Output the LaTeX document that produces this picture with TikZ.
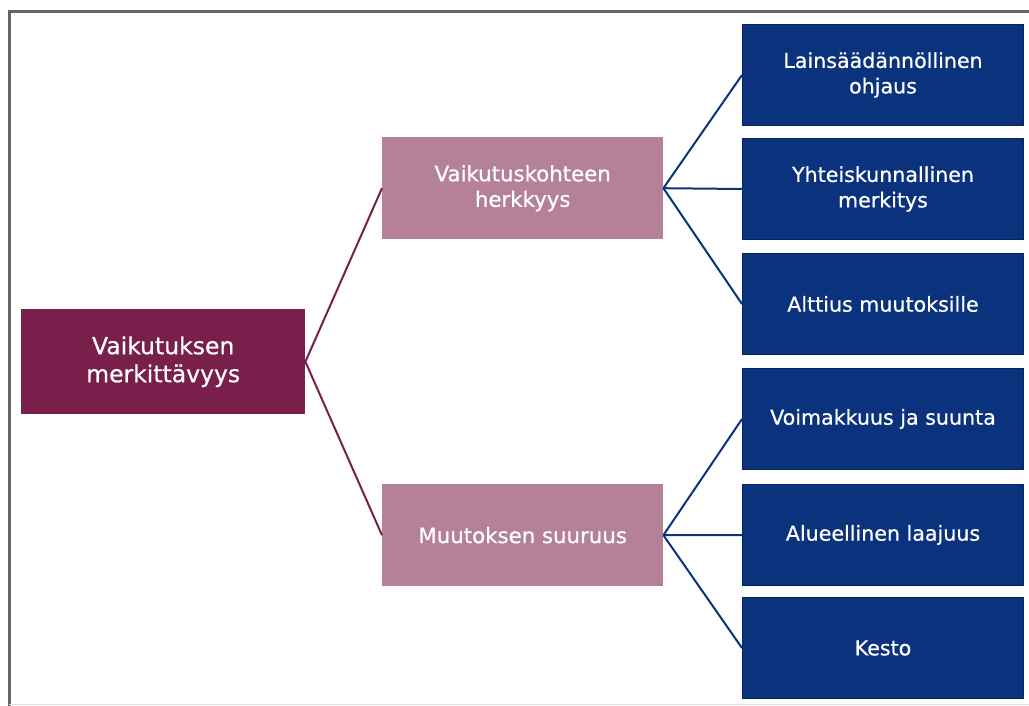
\documentclass[tikz,border=0pt]{standalone}
\usepackage{fontspec}
\setmainfont{DejaVu Sans}
\newfontfamily\boxfont{DejaVu Sans}[FakeBold=0.6]
\definecolor{maroon}{RGB}{121,31,76}
\definecolor{pinkbox}{RGB}{181,129,152}
\definecolor{navy}{RGB}{11,50,125}
\definecolor{navyedge}{RGB}{8,36,96}
\definecolor{framegray}{RGB}{100,100,100}
\begin{document}
\begin{tikzpicture}[x=1pt,y=-1pt,
  box/.style={rectangle, inner sep=0pt, align=center, text=white, anchor=north west},
  rootbox/.style={box, fill=maroon, minimum width=284pt, minimum height=105pt, font=\boxfont\fontsize{23.5}{28}\selectfont},
  midbox/.style={box, fill=pinkbox, minimum width=281pt, minimum height=102pt, font=\boxfont\fontsize{21.3}{25.5}\selectfont},
  leafbox/.style={box, fill=navy, draw=navyedge, line width=1pt, minimum width=281pt, minimum height=101pt, font=\boxfont\fontsize{20.6}{25.5}\selectfont},
  redline/.style={draw=maroon, line width=2pt},
  blueline/.style={draw=navy, line width=2pt}]
\useasboundingbox (0,0) rectangle (1029,706);
\fill[white] (0,0) rectangle (1029,706);
% frame
\draw[framegray, line width=3pt] (9,706) -- (9,12) -- (1029,12);
\draw[gray!25, line width=1pt] (9,704) -- (1029,704);
% nodes
\node[rootbox] (root) at (21,309) {Vaikutuksen\\merkittävyys};
\node[midbox] (herk) at (382,137) {Vaikutuskohteen\\herkkyys};
\node[midbox] (muut) at (382,484) {Muutoksen suuruus};
\node[leafbox] (l1) at (742,24) {Lainsäädännöllinen\\ohjaus};
\node[leafbox] (l2) at (742,138) {Yhteiskunnallinen\\merkitys};
\node[leafbox] (l3) at (742,253) {Alttius muutoksille};
\node[leafbox] (l4) at (742,368) {Voimakkuus ja suunta};
\node[leafbox] (l5) at (742,484) {Alueellinen laajuus};
\node[leafbox] (l6) at (742,597) {Kesto};
% connectors
\draw[redline] (root.east) -- (herk.west);
\draw[redline] (root.east) -- (muut.west);
\draw[blueline] (herk.east) -- (l1.west);
\draw[blueline] (herk.east) -- (l2.west);
\draw[blueline] (herk.east) -- (l3.west);
\draw[blueline] (muut.east) -- (l4.west);
\draw[blueline] (muut.east) -- (l5.west);
\draw[blueline] (muut.east) -- (l6.west);
\end{tikzpicture}
\end{document}
